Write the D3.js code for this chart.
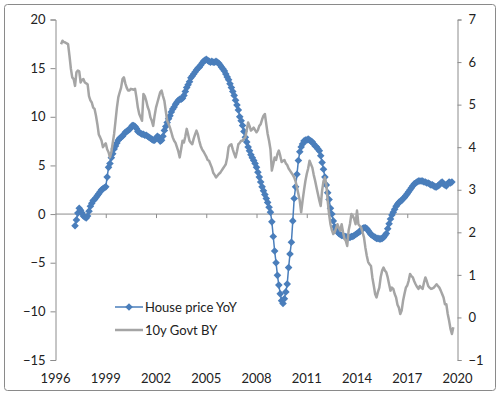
<!DOCTYPE html>
<html>
<head>
<meta charset="utf-8">
<script src="https://cdn.jsdelivr.net/npm/d3@7"></script>
<style>
  body { margin: 0; background: #fff; }
  text { font-family: Lato, "Open Sans", sans-serif; fill: #222; }
</style>
</head>
<body>
<div id="chart"></div>
<script>
const width = 500
const height = 395

// house price YoY (%), monthly from Mar 1997 to Sep 2019, left axis
const houseStart = [1997, 3]
const houseYoY = [
  -1.2, -0.6, 0.1, 0.6, 0.4, 0.1, -0.2, -0.3, -0.4, -0.2,
  0.3, 0.8, 1.1, 1.4, 1.5, 1.7, 1.9, 2.1, 2.3, 2.5, 2.6, 2.7,
  2.8, 3.8, 4.8, 5.2, 5.8, 6.2, 6.7, 7.0, 7.3, 7.6, 7.8, 7.9,
  8.0, 8.2, 8.4, 8.5, 8.6, 8.7, 8.9, 9.1, 9.1, 9.0, 8.8, 8.5,
  8.4, 8.3, 8.2, 8.2, 8.1, 8.1, 8.0, 7.9, 7.8, 7.7, 7.6, 7.6,
  7.8, 8.0, 7.9, 7.5, 7.6, 8.0, 8.6, 9.0, 9.4, 9.8, 10.1, 10.5,
  10.8, 11.0, 11.3, 11.5, 11.7, 11.8, 11.8, 11.9, 12.2, 12.6, 13.0, 13.3,
  13.6, 14.0, 14.2, 14.4, 14.6, 14.8, 15.0, 15.1, 15.3, 15.5, 15.7, 15.8,
  15.9, 15.8, 15.7, 15.6, 15.7, 15.6, 15.6, 15.7, 15.6, 15.5, 15.3, 15.1,
  14.9, 14.7, 14.4, 14.1, 13.8, 13.4, 13.0, 12.6, 12.2, 11.7, 11.2, 10.7,
  10.0, 9.6, 9.1, 8.5, 7.9, 7.4, 6.9, 6.5, 6.1, 5.8, 5.5, 5.2,
  4.8, 4.3, 3.8, 3.3, 2.8, 2.4, 2.0, 1.6, 1.2, 0.7, 0.2, -0.8,
  -2.3, -3.8, -5.0, -6.3, -7.3, -8.2, -8.9, -9.2, -8.7, -8.0, -7.2, -5.5,
  -4.1, -2.9, -0.7, 1.6, 2.8, 4.1, 5.5, 6.4, 6.9, 7.2, 7.5, 7.6,
  7.6, 7.7, 7.6, 7.5, 7.4, 7.2, 7.0, 6.9, 6.7, 6.5, 6.0, 5.3,
  4.6, 3.8, 3.0, 2.2, 1.5, 0.6, 0.0, -0.7, -1.3, -1.6, -1.8, -2.0,
  -2.1, -2.2, -2.2, -2.3, -2.3, -2.4, -2.4, -2.4, -2.3, -2.3, -2.2, -2.1,
  -2.0, -1.9, -1.8, -1.6, -1.5, -1.4, -1.4, -1.5, -1.7, -1.9, -2.1, -2.2,
  -2.3, -2.4, -2.5, -2.5, -2.55, -2.55, -2.5, -2.4, -2.2, -2.0, -1.5, -1.0,
  -0.5, -0.1, 0.2, 0.5, 0.8, 1.0, 1.2, 1.3, 1.4, 1.6, 1.7, 1.9,
  2.1, 2.3, 2.5, 2.7, 2.9, 3.1, 3.2, 3.3, 3.4, 3.4, 3.4, 3.4,
  3.3, 3.3, 3.2, 3.2, 3.1, 3.0, 3.0, 2.9, 2.8, 2.8, 2.9, 3.0,
  3.2, 3.3, 3.1, 3.0, 2.9, 3.1, 3.3, 3.2, 3.3
]

// 10y government bond yield (%), monthly from May 1996 to Oct 2019, right axis
const bondStart = [1996, 5]
const bondYield = [
  6.42, 6.5, 6.47, 6.46, 6.44, 6.42, 6.15, 5.85,
  5.64, 5.6, 5.44, 5.76, 5.8, 5.78, 5.52, 5.58, 5.6, 5.52, 5.5, 5.48,
  5.2, 5.1, 5.05, 4.93, 4.9, 4.74, 4.54, 4.3, 4.23, 4.15, 4.0, 4.05,
  4.09, 3.95, 3.88, 3.76, 3.88, 4.1, 4.31, 4.62, 4.93, 5.17, 5.29, 5.4,
  5.6, 5.64, 5.5, 5.4, 5.33, 5.33, 5.37, 5.36, 5.35, 5.37, 5.17, 4.93,
  4.78, 4.7, 4.62, 5.25, 5.2, 5.09, 4.95, 4.86, 4.7, 4.62, 4.5, 4.74,
  4.93, 5.05, 5.17, 5.29, 5.33, 5.2, 5.09, 4.85, 4.62, 4.55, 4.46, 4.35,
  4.23, 4.15, 4.1, 4.0, 3.9, 3.76, 3.95, 4.15, 4.11, 4.25, 4.43, 4.3,
  4.15, 4.1, 4.07, 4.2, 4.3, 4.39, 4.3, 4.15, 4.03, 3.95, 3.9, 3.84,
  3.78, 3.7, 3.68, 3.6, 3.52, 3.4, 3.35, 3.29, 3.33, 3.37, 3.4, 3.45,
  3.5, 3.55, 3.6, 3.75, 4.0, 4.05, 4.07, 3.95, 3.85, 3.76, 3.9, 4.07,
  4.1, 4.15, 4.15, 4.2, 4.23, 4.4, 4.58, 4.5, 4.39, 4.42, 4.46, 4.4,
  4.35, 4.4, 4.5, 4.54, 4.65, 4.74, 4.78, 4.54, 4.31, 4.15, 3.95, 3.45,
  3.6, 3.76, 3.7, 3.84, 3.92, 3.8, 3.65, 3.68, 3.7, 3.62, 3.58, 3.5,
  3.45, 3.4, 3.35, 3.29, 3.2, 3.05, 2.9, 2.74, 2.47, 2.74, 2.98, 3.2,
  3.37, 3.5, 3.68, 3.6, 3.52, 3.35, 3.21, 3.05, 2.9, 2.75, 2.62, 2.98,
  3.2, 3.29, 3.13, 2.74, 2.43, 2.19, 2.05, 1.96, 2.0, 2.1, 2.19, 2.1,
  2.04, 2.19, 2.0, 1.85, 1.8, 1.68, 2.04, 2.2, 2.43, 2.39, 2.31, 2.19,
  2.51, 2.19, 2.15, 2.11, 2.0, 1.88, 1.64, 1.45, 1.3, 1.25, 1.21, 0.94,
  0.75, 0.55, 0.47, 0.6, 0.7, 0.95, 1.1, 1.17, 1.1, 1.06, 0.94, 0.78,
  0.63, 0.7, 0.67, 0.55, 0.47, 0.3, 0.23, 0.08, 0.16, 0.39, 0.55, 0.7,
  0.75, 0.86, 1.02, 0.97, 0.94, 0.85, 0.78, 0.72, 0.67, 0.74, 0.7, 0.67,
  0.82, 0.94, 0.85, 0.74, 0.7, 0.67, 0.68, 0.7, 0.74, 0.78, 0.74, 0.7,
  0.63, 0.55, 0.47, 0.31, 0.31, 0.08, -0.08, -0.27, -0.39, -0.23
]

const yearTicks = [1996, 1999, 2002, 2005, 2008, 2011, 2014, 2017, 2020]
const leftTicks = [-15, -10, -5, 0, 5, 10, 15, 20]
const rightTicks = [-1, 0, 1, 2, 3, 4, 5, 6, 7]
const seriesNames = ["House price YoY", "10y Govt BY"]

const blue = "#4a7ebb"
const grey = "#a5a5a5"
const axisColor = "#8c8c8c"

// month index -> decimal year
function toSeries(start, values) {
    return values.map((v, i) => ({ t: start[0] + (start[1] - 1 + i) / 12, v }))
}
const houseData = toSeries(houseStart, houseYoY)
const bondData = toSeries(bondStart, bondYield)

const x = d3.scaleLinear().domain([1996, 2020]).range([55.5, 457.5])
const yL = d3.scaleLinear().domain([-15, 20]).range([360, 19.5])
const yR = d3.scaleLinear().domain([-1, 7]).range([360, 19.5])

const svg = d3.select("#chart")
    .append("svg")
    .attr("width", width)
    .attr("height", height)

svg.append("rect")
    .attr("x", 4.5).attr("y", 4.5)
    .attr("width", 491).attr("height", 386)
    .attr("rx", 3)
    .attr("fill", "#fff")
    .attr("stroke", "#8a8a8a")

// left axis
const gLeft = svg.append("g")
    .attr("transform", `translate(${x(1996)},0)`)
    .call(d3.axisLeft(yL).tickValues(leftTicks).tickSize(5).tickPadding(5))
// right axis
const gRight = svg.append("g")
    .attr("transform", `translate(${x(2020)},0)`)
    .call(d3.axisRight(yR).tickValues(rightTicks).tickSize(4).tickPadding(7))
// zero line with year ticks
const gZero = svg.append("g")
    .attr("transform", `translate(0,${yL(0)})`)
    .call(d3.axisBottom(x).tickValues(yearTicks.slice(1, -1)).tickSize(4).tickFormat(""))

for (const g of [gLeft, gRight, gZero]) {
    g.select(".domain").attr("stroke", axisColor).attr("stroke-width", 1)
    g.selectAll(".tick line").attr("stroke", axisColor)
    g.selectAll(".tick text")
        .attr("fill", "#222")
        .style("font-size", "13px")
        .style("font-family", "Lato, sans-serif")
}
gZero.select(".domain").attr("d", `M${x(1996)},0H${x(2020)}`)

svg.append("g")
    .selectAll("text")
    .data(yearTicks)
    .join("text")
    .attr("x", d => x(d))
    .attr("y", 383)
    .attr("text-anchor", "middle")
    .style("font-size", "13px")
    .text(d => d)

// house price series with diamond markers
const diamond = "M0,-3.8L3.8,0L0,3.8L-3.8,0Z"

const houseLine = d3.line().x(d => x(d.t)).y(d => yL(d.v))
svg.append("path")
    .datum(houseData)
    .attr("d", houseLine)
    .attr("fill", "none")
    .attr("stroke", blue)
    .attr("stroke-width", 1.5)

svg.append("g")
    .selectAll("path")
    .data(houseData)
    .join("path")
    .attr("d", diamond)
    .attr("transform", d => `translate(${x(d.t)},${yL(d.v)})`)
    .attr("fill", blue)

// bond yield series on the secondary axis, drawn on top
const bondLine = d3.line().x(d => x(d.t)).y(d => yR(d.v))
svg.append("path")
    .datum(bondData)
    .attr("d", bondLine)
    .attr("fill", "none")
    .attr("stroke", grey)
    .attr("stroke-width", 2.5)
    .attr("stroke-linejoin", "round")

// legend
const legend = svg.append("g").attr("transform", "translate(115,307)")
legend.append("line")
    .attr("x1", 0).attr("x2", 28).attr("y1", 0).attr("y2", 0)
    .attr("stroke", blue).attr("stroke-width", 1.5)
legend.append("path")
    .attr("d", diamond)
    .attr("transform", "translate(14,0)")
    .attr("fill", blue)
legend.append("line")
    .attr("x1", 0).attr("x2", 28).attr("y1", 23).attr("y2", 23)
    .attr("stroke", grey).attr("stroke-width", 2.5)
legend.selectAll("text")
    .data(seriesNames)
    .join("text")
    .attr("x", 30)
    .attr("y", (d, i) => i * 23)
    .attr("dy", "0.35em")
    .style("font-size", "13px")
    .text(d => d)
</script>
</body>
</html>
